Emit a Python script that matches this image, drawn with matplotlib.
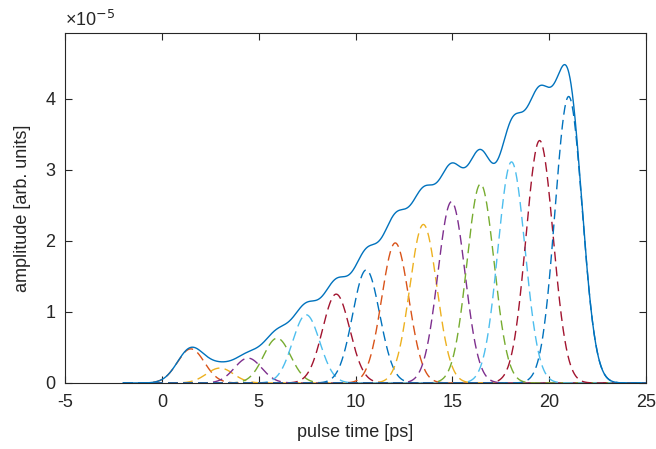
import numpy as np
import matplotlib
matplotlib.use("Agg")
import matplotlib.pyplot as plt

plt.rcParams["font.family"] = ["Liberation Sans", "DejaVu Sans"]

# pulse centres [ps] and peak amplitudes [1e-5 arb. units]
centers = [1.5, 3.0, 4.45, 5.95, 7.45, 9.0, 10.55, 12.05, 13.5, 14.95, 16.45, 18.05, 19.5, 21.0]
amps = [0.48, 0.21, 0.35, 0.63, 0.96, 1.25, 1.59, 1.97, 2.23, 2.55, 2.80, 3.11, 3.41, 4.03]
sigma = 0.7  # gaussian pulse width [ps]

matlab_colors = ["#0072BD", "#D95319", "#EDB120", "#7E2F8E", "#77AC30", "#4DBEEE", "#A2142F"]

t = np.linspace(-2, 25, 2000)
pulses = [a * 1e-5 * np.exp(-(t - c) ** 2 / (2 * sigma ** 2)) for c, a in zip(centers, amps)]
total = np.sum(pulses, axis=0)

fig = plt.figure(figsize=(6.56, 4.49), dpi=100)
ax = fig.add_axes([0.099, 0.147, 0.886, 0.78])

ax.plot(t, total, color=matlab_colors[0], lw=1.0, zorder=3)
for i, p in enumerate(pulses):
    ax.plot(t, p, color=matlab_colors[(i + 1) % 7], lw=1.0, ls=(0, (7, 3.8)))

ax.set_xlim(-5, 25)
ax.set_ylim(0, 1.1 * total.max())
ax.set_xticks(np.arange(-5, 26, 5))
ax.set_xticklabels([str(v) for v in range(-5, 26, 5)])
ax.set_yticks(np.arange(0, 5) * 1e-5)
ax.set_yticklabels([str(v) for v in range(5)])
ax.text(0.0, 1.008, "\u00d710$^{\\mathrm{-5}}$", transform=ax.transAxes, fontsize=13,
        va="bottom", ha="left", color="#262626")

ax.set_xlabel("pulse time [ps]", fontsize=13, color="#262626", labelpad=9)
ax.set_ylabel("amplitude [arb. units]", fontsize=13, color="#262626", labelpad=10)
ax.tick_params(direction="in", top=True, right=True, labelsize=13, colors="#262626",
               length=5, width=0.8)
ax.tick_params(axis="x", pad=8)
ax.tick_params(axis="y", pad=7)
for s in ax.spines.values():
    s.set_color("#262626")
    s.set_linewidth(0.8)

fig.savefig("out.png", dpi=100)
